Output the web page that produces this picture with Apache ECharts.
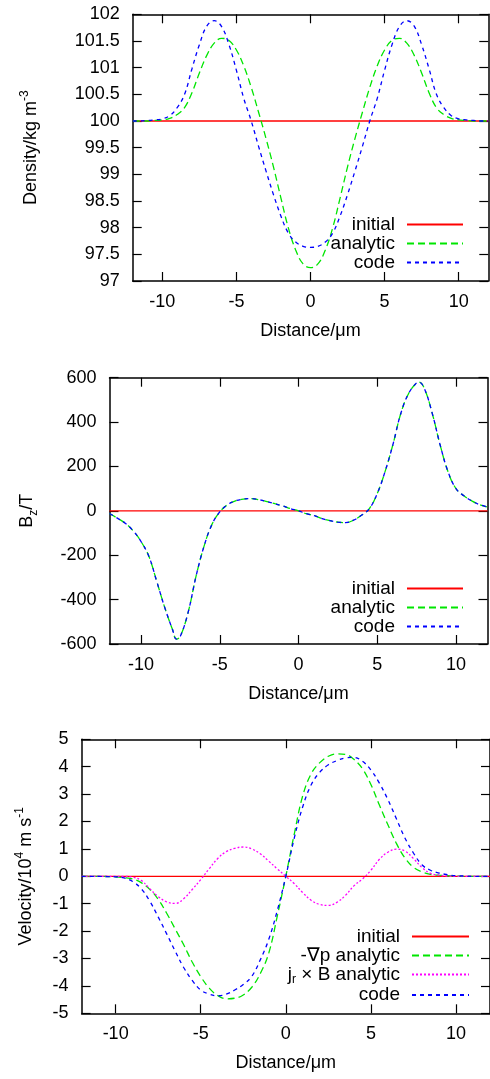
<!DOCTYPE html>
<html>
<head>
<meta charset="utf-8">
<script src="https://cdn.jsdelivr.net/npm/echarts@6.0.0/dist/echarts.min.js"></script>
<style>
html,body{margin:0;padding:0;background:#fff;}
#chart{width:490px;height:1079px;}
</style>
</head>
<body>
<div id="chart"></div>
<script>
// ---------- data ----------
const xTicks = [-10, -5, 0, 5, 10];
const initX = [-12, 12];

// Panel 1: density
const x1 = [-12,-11.5,-11,-10.5,-10,-9.5,-9,-8.5,-8,-7.5,-7,-6.5,-6,-5.5,-5,-4.5,-4,-3.5,-3,-2.5,-2,-1.5,-1,-0.5,0,0.5,1,1.5,2,2.5,3,3.5,4,4.5,5,5.5,6,6.5,7,7.5,8,8.5,9,9.5,10,10.5,11,11.5,12];
const densityInitial = [100, 100];
const densityAnalytic = [100,100,100,100.01,100.02,100.05,100.12,100.25,100.53,100.9,101.23,101.46,101.55,101.51,101.33,101.03,100.63,100.16,99.67,99.14,98.56,98.0,97.58,97.32,97.25,97.32,97.58,98.0,98.56,99.14,99.67,100.16,100.63,101.03,101.33,101.51,101.55,101.46,101.23,100.9,100.53,100.25,100.12,100.05,100.02,100.01,100,100,100];
const densityCode = [100,100,100.01,100.02,100.04,100.1,100.25,100.5,100.98,101.43,101.78,101.88,101.77,101.43,100.95,100.42,100.0,99.52,99.06,98.62,98.22,97.9,97.73,97.65,97.63,97.65,97.73,97.9,98.22,98.62,99.06,99.52,100.0,100.42,100.95,101.43,101.77,101.88,101.78,101.43,100.98,100.5,100.25,100.1,100.04,100.02,100.01,100,100];

// Panel 2: Bz
const x2 = [-12,-11.5,-11,-10.5,-10,-9.5,-9,-8.5,-8,-7.75,-7.5,-7,-6.5,-6,-5.5,-5,-4.5,-4,-3.5,-3,-2.5,-2,-1.5,-1,-0.5,0,0.5,1,1.5,2,2.5,3,3.5,4,4.5,5,5.5,6,6.5,7,7.5,7.65,8,8.5,9,9.5,10,10.5,11,11.5,12];
const bzInitial = [0, 0];
const bzAnalytic = [-12,-33,-56,-90,-138,-205,-318,-434,-535,-578,-565,-455,-293,-160,-62,-5,28,45,53,55,50,42,32,22,10,0,-13,-22,-35,-44,-51,-53,-42,-20,10,78,178,300,440,530,577,580,550,437,295,175,100,68,45,28,17];
const bzCode = [-12,-33,-56,-90,-138,-205,-318,-434,-535,-578,-565,-455,-293,-160,-62,-5,28,45,53,55,50,42,32,22,10,0,-13,-22,-35,-44,-51,-53,-42,-20,10,78,178,300,440,530,577,580,550,437,295,175,100,68,45,28,17];

// Panel 3: velocity
const x3 = x1;
const velInitial = [0, 0];
const velGradP = [0,0,0,-0.01,-0.02,-0.05,-0.1,-0.23,-0.47,-0.84,-1.35,-1.92,-2.5,-3.13,-3.66,-4.08,-4.35,-4.47,-4.45,-4.33,-4.05,-3.55,-2.8,-1.45,0,1.55,2.95,3.75,4.15,4.38,4.47,4.45,4.27,3.93,3.35,2.6,1.88,1.2,0.67,0.33,0.16,0.07,0.04,0.02,0.01,0,0,0,0];
const velJxB = [0,0,0,0,0,0,-0.03,-0.15,-0.45,-0.74,-0.93,-0.99,-0.82,-0.48,-0.12,0.28,0.65,0.9,1.02,1.07,1.0,0.82,0.55,0.27,0,-0.27,-0.6,-0.88,-1.03,-1.06,-0.95,-0.7,-0.35,-0.1,0.22,0.62,0.88,0.99,0.92,0.65,0.32,0.11,0.04,0.01,0,0,0,0,0];
const velCode = [0,0,0,-0.01,-0.02,-0.06,-0.19,-0.45,-0.9,-1.48,-2.1,-2.73,-3.33,-3.8,-4.15,-4.3,-4.36,-4.3,-4.15,-3.95,-3.65,-3.05,-2.3,-1.25,0,1.4,2.55,3.35,3.8,4.07,4.22,4.32,4.34,4.2,3.88,3.4,2.8,2.1,1.4,0.85,0.42,0.22,0.12,0.06,0.02,0.01,0,0,0];

const JXB_NAME = 'jr × B analytic';
const GRADP_NAME = '-∇p analytic';

// ---------- styling ----------
const FONT = '"Liberation Sans", Arial, Helvetica, sans-serif';
const FS = 18;
const LFS = 19;
const BLACK = '#000';
const RED = '#ff0000', GREEN = '#00e600', BLUE = '#0000ff', MAGENTA = '#ff00ff';
const DASH_AN = [7, 4], DASH_CODE = [4, 4], DOT = [2, 2];

const rich = {
  a: {fontSize: FS, fontFamily: FONT, color: BLACK, lineHeight: 24},
  sup: {fontSize: 12, fontFamily: FONT, color: BLACK, verticalAlign: 'top', lineHeight: 24},
  sub: {fontSize: 12, fontFamily: FONT, color: BLACK, verticalAlign: 'bottom', lineHeight: 24}
};
const legendRich = {
  a: {fontSize: LFS, fontFamily: FONT, color: BLACK, lineHeight: 20},
  sub: {fontSize: 12, fontFamily: FONT, color: BLACK, verticalAlign: 'bottom', lineHeight: 22}
};

const axisLine = {show: true, onZero: false, lineStyle: {color: BLACK, width: 1.5}};
const tickStyle = {color: BLACK, width: 1.2};

function xAxesFor(g) {
  return [
    {
      type: 'value', gridIndex: g, position: 'bottom', min: -12, max: 12,
      name: 'Distance/μm', nameLocation: 'middle', nameGap: 41,
      nameTextStyle: {fontSize: FS, fontFamily: FONT, color: BLACK},
      axisLine: axisLine,
      axisTick: {show: true, inside: true, length: 9, customValues: xTicks, lineStyle: tickStyle},
      axisLabel: {show: true, customValues: xTicks, margin: 12, fontSize: FS, fontFamily: FONT, color: BLACK},
      splitLine: {show: false}
    },
    {
      type: 'value', gridIndex: g, position: 'top', min: -12, max: 12,
      axisLine: axisLine,
      axisTick: {show: true, inside: true, length: 9, customValues: xTicks, lineStyle: tickStyle},
      axisLabel: {show: false, customValues: xTicks},
      splitLine: {show: false}
    }
  ];
}
function yAxesFor(g, min, max, interval, name, gap) {
  return [
    {
      type: 'value', gridIndex: g, position: 'left', min: min, max: max, interval: interval,
      name: name, nameLocation: 'middle', nameGap: gap, nameRotate: 90,
      nameTextStyle: {fontSize: FS, fontFamily: FONT, color: BLACK, rich: rich},
      axisLine: axisLine,
      axisTick: {show: true, inside: true, length: 9, lineStyle: tickStyle},
      axisLabel: {show: true, margin: 13, fontSize: FS, fontFamily: FONT, color: BLACK},
      splitLine: {show: false}
    },
    {
      type: 'value', gridIndex: g, position: 'right', min: min, max: max, interval: interval,
      axisLine: axisLine,
      axisTick: {show: true, inside: true, length: 9, lineStyle: tickStyle},
      axisLabel: {show: false},
      splitLine: {show: false}
    }
  ];
}

function line(name, g, xs, ys, color, dash, z, smooth) {
  return {
    type: 'line', name: name, xAxisIndex: 2 * g, yAxisIndex: 2 * g,
    data: xs.map((x, i) => [x, ys[i]]),
    symbol: 'none', showSymbol: false, smooth: smooth ? 0.4 : false,
    clip: true, silent: true, animation: false, z: z,
    lineStyle: {color: color, width: 1.3, type: dash},
    itemStyle: {color: color},
    emphasis: {disabled: true}
  };
}

function legendFor(names, right, top, width) {
  return {
    data: names, orient: 'vertical', right: right, top: top, align: 'right',
    itemWidth: width, itemHeight: 20, itemGap: 0, padding: 0,
    selectedMode: false,
    itemStyle: {color: 'rgba(0,0,0,0)', borderWidth: 0, opacity: 0},
    formatter: function (n) {
      if (n === JXB_NAME) return '{a|j}{sub|r}{a| × B analytic}';
      return '{a|' + n + '}';
    },
    textStyle: {fontSize: LFS, fontFamily: FONT, color: BLACK, padding: [0, 7, 0, 0], rich: legendRich}
  };
}

const option = {
  backgroundColor: '#fff',
  animation: false,
  grid: [
    {left: 132.7, top: 14.3, width: 355.6, height: 266.7},
    {left: 109.5, top: 377.7, width: 378, height: 266.3},
    {left: 81.6, top: 739.3, width: 413.2, height: 274}
  ],
  xAxis: [].concat(xAxesFor(0), xAxesFor(1), xAxesFor(2)),
  yAxis: [].concat(
    yAxesFor(0, 97, 102, 0.5, '{a|Density/kg m}{sup|-3}', 90),
    yAxesFor(1, -600, 600, 200, '{a|B}{sub|z}{a|/T}', 70),
    yAxesFor(2, -5, 5, 1, '{a|Velocity/10}{sup|4}{a| m s}{sup|-1}', 44)
  ),
  legend: [
    legendFor(['initial', 'analytic', 'code'], 26, 215, 56),
    legendFor(['initial', 'analytic', 'code'], 26, 579, 56),
    legendFor(['initial', GRADP_NAME, JXB_NAME, 'code'], 20, 927, 57)
  ],
  series: [
    line('initial', 0, initX, densityInitial, RED, 'solid', 2, false),
    line('analytic', 0, x1, densityAnalytic, GREEN, DASH_AN, 3, true),
    line('code', 0, x1, densityCode, BLUE, DASH_CODE, 4, true),

    line('initial', 1, initX, bzInitial, RED, 'solid', 2, false),
    line('analytic', 1, x2, bzAnalytic, GREEN, DASH_AN, 3, true),
    line('code', 1, x2, bzCode, BLUE, DASH_CODE, 4, true),

    line('initial', 2, initX, velInitial, RED, 'solid', 2, false),
    line(GRADP_NAME, 2, x3, velGradP, GREEN, DASH_AN, 3, true),
    line(JXB_NAME, 2, x3, velJxB, MAGENTA, DOT, 4, true),
    line('code', 2, x3, velCode, BLUE, DASH_CODE, 5, true)
  ]
};

const chart = echarts.init(document.getElementById('chart'), null, {renderer: 'canvas'});
chart.setOption(option);
</script>
</body>
</html>
